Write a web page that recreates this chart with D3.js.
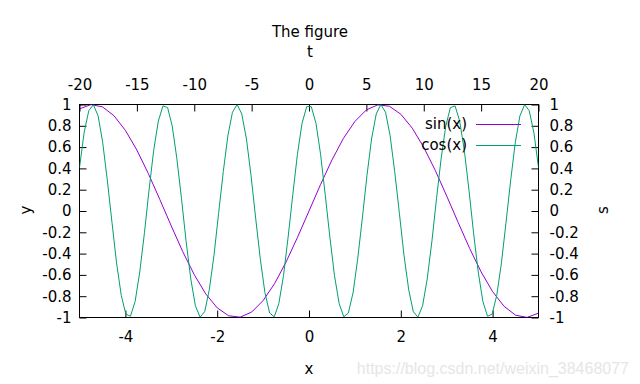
<!DOCTYPE html>
<html>
<head>
<meta charset="utf-8">
<script src="https://cdn.jsdelivr.net/npm/d3@7"></script>
<style>
  body { margin: 0; background: #fff; }
  text { font-family: "DejaVu Sans", sans-serif; font-size: 15px; }
</style>
</head>
<body>
<div id="chart"></div>
<script>
// Dados
const sinX = [-5, -4.75, -4.5, -4.25, -4, -3.75, -3.5, -3.25, -3, -2.75, -2.5, -2.25, -2, -1.75, -1.5, -1.25, -1, -0.75, -0.5, -0.25,
  0, 0.25, 0.5, 0.75, 1, 1.25, 1.5, 1.75, 2, 2.25, 2.5, 2.75, 3, 3.25, 3.5, 3.75, 4, 4.25, 4.5, 4.75, 5];
const sinY = [0.959, 0.999, 0.978, 0.895, 0.757, 0.572, 0.351, 0.108, -0.141, -0.382, -0.598, -0.778, -0.909, -0.984, -0.997, -0.949, -0.841, -0.682, -0.479, -0.247,
  0, 0.247, 0.479, 0.682, 0.841, 0.949, 0.997, 0.984, 0.909, 0.778, 0.598, 0.382, 0.141, -0.108, -0.351, -0.572, -0.757, -0.895, -0.978, -0.999, -0.959];

const cosT = [-20.00, -19.60, -19.19, -18.79, -18.38, -17.98, -17.58, -17.17, -16.77, -16.36, -15.96, -15.56, -15.15, -14.75, -14.34, -13.94, -13.54, -13.13, -12.73, -12.32,
  -11.92, -11.52, -11.11, -10.71, -10.30, -9.90, -9.49, -9.09, -8.69, -8.28, -7.88, -7.47, -7.07, -6.67, -6.26, -5.86, -5.45, -5.05, -4.65, -4.24,
  -3.84, -3.43, -3.03, -2.63, -2.22, -1.82, -1.41, -1.01, -0.61, -0.20,
  0.20, 0.61, 1.01, 1.41, 1.82, 2.22, 2.63, 3.03, 3.43, 3.84, 4.24, 4.65, 5.05, 5.45, 5.86, 6.26, 6.67, 7.07, 7.47, 7.88,
  8.28, 8.69, 9.09, 9.49, 9.90, 10.30, 10.71, 11.11, 11.52, 11.92, 12.32, 12.73, 13.13, 13.54, 13.94, 14.34, 14.75, 15.15, 15.56, 15.96,
  16.36, 16.77, 17.17, 17.58, 17.98, 18.38, 18.79, 19.19, 19.60, 20.00];
const cosY = [0.4081, 0.7341, 0.9420, 0.9981, 0.8935, 0.6450, 0.2927, -0.1068, -0.4891, -0.7926, -0.9685, -0.9884, -0.8491, -0.5731, -0.2048, 0.1965, 0.5661, 0.8446, 0.9871, 0.9706,
  0.7978, 0.4965, 0.1153, -0.2845, -0.6385, -0.8897, -0.9975, -0.9448, -0.7399, -0.4158, -0.0248, 0.3702, 0.7056, 0.9274, 0.9998, 0.9112, 0.6759, 0.3317, -0.0659, -0.4529,
  -0.7669, -0.9575, -0.9938, -0.8701, -0.6063, -0.2449, 0.1560, 0.5318, 0.8219, 0.9797,
  0.9797, 0.8219, 0.5318, 0.1560, -0.2449, -0.6063, -0.8701, -0.9938, -0.9575, -0.7669, -0.4529, -0.0659, 0.3317, 0.6759, 0.9112, 0.9998, 0.9274, 0.7056, 0.3702, -0.0248,
  -0.4158, -0.7399, -0.9448, -0.9975, -0.8897, -0.6385, -0.2845, 0.1153, 0.4965, 0.7978, 0.9706, 0.9871, 0.8446, 0.5661, 0.1965, -0.2048, -0.5731, -0.8491, -0.9884, -0.9685,
  -0.7926, -0.4891, -0.1068, 0.2927, 0.6450, 0.8935, 0.9981, 0.9420, 0.7341, 0.4081];

const xTicks = [-4, -2, 0, 2, 4];
const x2Ticks = [-20, -15, -10, -5, 0, 5, 10, 15, 20];
const yTicks = [-1, -0.8, -0.6, -0.4, -0.2, 0, 0.2, 0.4, 0.6, 0.8, 1];
const seriesNames = ["sin(x)", "cos(x)"];
const seriesColors = ["#9400d3", "#009e73"];

const width = 640, height = 384;
const m = { left: 79.5, right: 538.5, top: 104.5, bottom: 317.5 };

const svg = d3.select("#chart").append("svg")
  .attr("width", width).attr("height", height);

// Escalas
const x = d3.scaleLinear().domain([-5, 5]).range([m.left, m.right]);
const x2 = d3.scaleLinear().domain([-20, 20]).range([m.left, m.right]);
const y = d3.scaleLinear().domain([-1, 1]).range([m.bottom, m.top]);

svg.append("clipPath").attr("id", "clip")
  .append("rect").attr("x", m.left).attr("y", m.top).attr("width", m.right - m.left).attr("height", m.bottom - m.top);

// Eixos com ticks para dentro (hífen simples como sinal de menos)
const tk = 7;
const fmt = d => String(+d.toFixed(1));
svg.append("g").attr("transform", `translate(0,${m.bottom})`)
  .call(d3.axisBottom(x).tickValues(xTicks).tickSizeInner(-tk).tickSizeOuter(0).tickPadding(14).tickFormat(fmt));
svg.append("g").attr("transform", `translate(0,${m.top})`)
  .call(d3.axisTop(x2).tickValues(x2Ticks).tickSizeInner(-tk).tickSizeOuter(0).tickPadding(15).tickFormat(fmt));
svg.append("g").attr("transform", `translate(${m.left},0)`)
  .call(d3.axisLeft(y).tickValues(yTicks).tickSizeInner(-tk).tickSizeOuter(0).tickPadding(8).tickFormat(fmt));
svg.append("g").attr("transform", `translate(${m.right},0)`)
  .call(d3.axisRight(y).tickValues(yTicks).tickSizeInner(-tk).tickSizeOuter(0).tickPadding(11).tickFormat(fmt));

svg.selectAll(".tick text").style("font-family", "DejaVu Sans").style("font-size", "15px").style("fill", "#000");
svg.selectAll(".domain").remove();
svg.selectAll(".tick line").attr("stroke", "#000");

// Moldura
svg.append("rect").attr("x", m.left).attr("y", m.top).attr("width", m.right - m.left).attr("height", m.bottom - m.top)
  .attr("fill", "none").attr("stroke", "#000").attr("stroke-width", 1);

// Curvas
const sinLine = d3.line().x((d, i) => x(sinX[i])).y(d => y(d));
const cosLine = d3.line().x((d, i) => x2(cosT[i])).y(d => y(d));
const plot = svg.append("g").attr("clip-path", "url(#clip)");
plot.append("path").attr("d", sinLine(sinY)).attr("fill", "none").attr("stroke", seriesColors[0]).attr("stroke-width", 1);
plot.append("path").attr("d", cosLine(cosY)).attr("fill", "none").attr("stroke", seriesColors[1]).attr("stroke-width", 1);

// Legenda
seriesNames.forEach((name, i) => {
  const ly = 124 + i * 21;
  svg.append("text").attr("x", 467).attr("y", ly).attr("dy", "0.36em").attr("text-anchor", "end").style("fill", "#000").text(name);
  svg.append("line").attr("x1", 476).attr("x2", 521).attr("y1", ly + 0.5).attr("y2", ly + 0.5)
    .attr("stroke", seriesColors[i]).attr("stroke-width", 1);
});

// Títulos
svg.append("text").attr("x", 310).attr("y", 37).attr("text-anchor", "middle").text("The figure");
svg.append("text").attr("x", 310).attr("y", 57).attr("text-anchor", "middle").text("t");
svg.append("text").attr("x", 309).attr("y", 374).attr("text-anchor", "middle").text("x");
svg.append("text").attr("transform", "translate(31,210) rotate(-90)").attr("text-anchor", "middle").text("y");
svg.append("text").attr("transform", "translate(608,210) rotate(-90)").attr("text-anchor", "middle").text("s");

// Marca d'água
svg.append("text").attr("x", 629).attr("y", 374).attr("text-anchor", "end")
  .style("font-family", "Liberation Sans").style("font-size", "16px").style("fill", "#e6e6e6")
  .text("https://blog.csdn.net/weixin_38468077");
</script>
</body>
</html>
